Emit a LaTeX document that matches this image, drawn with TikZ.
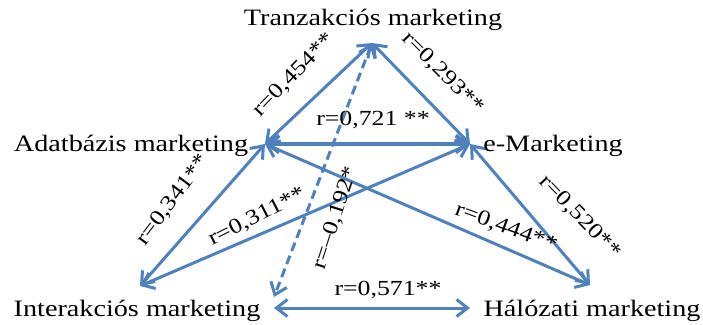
\documentclass[tikz,border=0pt]{standalone}
\usepackage{fontspec}
\setmainfont[FakeStretch=1.2]{Liberation Serif}
\usetikzlibrary{arrows.meta}
\definecolor{kek}{HTML}{4F81BD}

\begin{document}
\begin{tikzpicture}[
  x=1pt, y=-1pt,
  felirat/.style={inner sep=0pt, anchor=base, font=\fontsize{23.5}{25}\selectfont},
  cimke/.style={inner sep=0pt, font=\fontsize{21.5}{23}\selectfont},
  nyil/.style={{Straight Barb[length=11pt,width=17pt]}-{Straight Barb[length=11pt,width=17pt]}, line width=3pt, kek}
]
  \useasboundingbox (0,0) rectangle (703,324);
  % vegpontok
  \coordinate (pT) at (372,43);
  \coordinate (pA) at (265,144);
  \coordinate (pE) at (470,144);
  \coordinate (pI) at (140,286);
  \coordinate (pH) at (590,285);
  \coordinate (pD) at (274,297);
  \coordinate (pI2) at (274,308);
  \coordinate (pH2) at (470,308);
  % nyilak
  \draw[nyil] (pT) -- (pA);
  \draw[nyil] (pT) -- (pE);
  \draw[nyil, line width=4pt] (pA) -- (pE);
  \draw[nyil] (pA) -- (pI);
  \draw[nyil] (pI) -- (pE);
  \draw[nyil] (pA) -- (pH);
  \draw[nyil] (pE) -- (pH);
  \draw[nyil, dash pattern=on 9pt off 5pt] (pT) -- (pD);
  \draw[nyil] (pI2) -- (pH2);
  % feliratok
  \node[felirat] (tranz) at (373,25) {Tranzakciós marketing};
  \node[felirat] (adat) at (131,151) {Adatbázis marketing};
  \node[felirat] (emark) at (553,151) {e-Marketing};
  \node[felirat] (inter) at (137,316) {Interakciós marketing};
  \node[felirat] (halo) at (592,316) {Hálózati marketing};
  % korrelaciok
  \node[cimke, rotate=46] (r1) at (294,75) {r=0,454**};
  \node[cimke, rotate=-45] (r2) at (443,73) {r=0,293**};
  \node[cimke] (r3) at (373,120) {r=0,721 **};
  \node[cimke, rotate=53] (r4) at (173,200) {r=0,341**};
  \node[cimke, rotate=27] (r5) at (257,217) {r=0,311**};
  \node[cimke, rotate=72] (r6) at (336,218) {r=–0,192*};
  \node[cimke, rotate=-20] (r7) at (506,228) {r=0,444**};
  \node[cimke, rotate=-46] (r8) at (580,217) {r=0,520**};
  \node[cimke] (r9) at (388,290) {r=0,571**};
\end{tikzpicture}
\end{document}
